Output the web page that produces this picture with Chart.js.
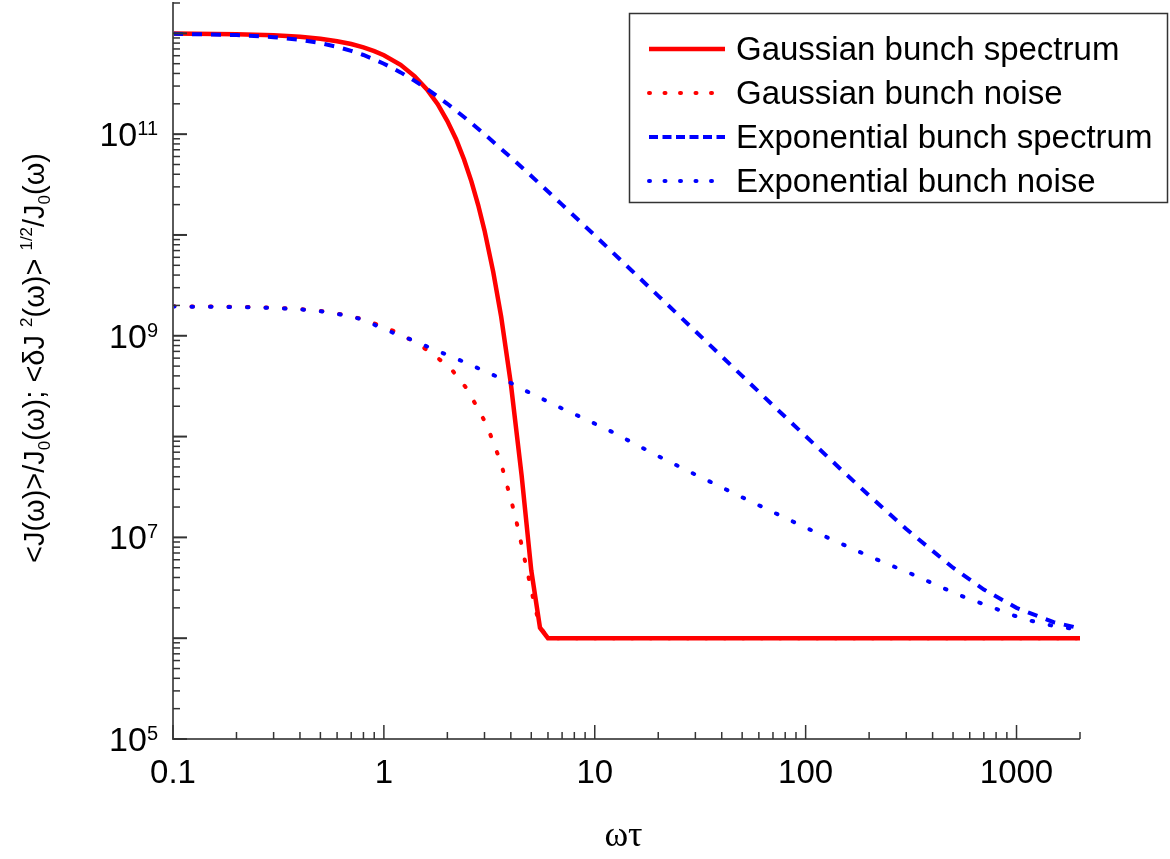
<!DOCTYPE html>
<html>
<head>
<meta charset="utf-8">
<title>Bunch spectrum and noise</title>
<script src="https://cdn.jsdelivr.net/npm/chart.js@4.4.1/dist/chart.umd.min.js"></script>
<style>
  html, body { margin: 0; padding: 0; background: #fff; }
  #wrap { width: 1170px; height: 859px; }
</style>
</head>
<body>
<div id="wrap"><canvas id="chart" width="1170" height="859"></canvas></div>
<script>
// axis ranges and labels
const X_MIN = 0.1, X_MAX = 2000;
const Y_MIN = 1e5, Y_MAX = 2e12;
const xTickValues = [0.1, 1, 10, 100, 1000];
const xTickLabels = ["0.1", "1", "10", "100", "1000"];
const yLabelExponents = [5, 7, 9, 11];
const seriesNames = ["Gaussian bunch spectrum", "Gaussian bunch noise", "Exponential bunch spectrum", "Exponential bunch noise"];

// values
const gaussSpecX = [0.1, 0.2, 0.3, 0.4, 0.5, 0.6, 0.7, 0.8, 0.9, 1.0, 1.2, 1.4, 1.6, 1.8, 2.0, 2.2, 2.4, 2.6, 2.8, 3.0, 3.3, 3.6, 4.0, 4.5, 5.0, 5.5, 6.0, 2000];
const gaussSpecY = [9.95e11, 9.8e11, 9.56e11, 9.23e11, 8.82e11, 8.35e11, 7.83e11, 7.26e11, 6.67e11, 6.07e11, 4.87e11, 3.75e11, 2.78e11, 1.98e11, 1.35e11, 8.9e10, 5.6e10, 3.4e10, 1.98e10, 1.11e10, 4.3e9, 1.54e9, 3.35e8, 4.1e7, 4.7e6, 1.27e6, 1.0e6, 1.0e6];

const gaussNoiseX = [0.1, 0.2, 0.3, 0.4, 0.5, 0.6, 0.7, 0.8, 1.0, 1.13, 1.4, 1.71, 2.1, 2.47, 2.76, 3.08, 3.32, 3.59, 3.79, 4.0, 4.22, 4.41, 4.61, 4.81, 5.03, 5.25, 5.5, 6.0, 2000];
const gaussNoiseY = [1.96e9, 1.94e9, 1.9e9, 1.84e9, 1.76e9, 1.66e9, 1.56e9, 1.45e9, 1.22e9, 1.1e9, 8.7e8, 6.6e8, 4.6e8, 3.0e8, 1.98e8, 1.29e8, 8.5e7, 5.5e7, 3.6e7, 2.4e7, 1.54e7, 1.02e7, 6.6e6, 4.4e6, 2.85e6, 1.9e6, 1.3e6, 1.0e6, 1.0e6];

const expSpecX = [0.1, 0.2, 0.3, 0.4, 0.5, 0.6, 0.7, 0.8, 1.0, 1.2, 1.4, 1.6, 1.8, 2.0, 2.5, 3.0, 4.0, 5.0, 7.0, 10, 15, 20, 30, 50, 70, 100, 150, 200, 300, 500, 700, 1000, 1500, 2000];
const expSpecY = [9.9e11, 9.62e11, 9.17e11, 8.62e11, 8.0e11, 7.35e11, 6.71e11, 6.1e11, 5.0e11, 4.1e11, 3.38e11, 2.81e11, 2.36e11, 2.0e11, 1.38e11, 1.0e11, 5.88e10, 3.85e10, 2.0e10, 9.9e9, 4.42e9, 2.49e9, 1.11e9, 4.0e8, 2.04e8, 1.01e8, 4.54e7, 2.6e7, 1.21e7, 5.0e6, 3.04e6, 2.0e6, 1.44e6, 1.25e6];

const expNoiseX = [0.1, 0.2, 0.3, 0.4, 0.5, 0.6, 0.7, 0.8, 1.0, 1.2, 1.4, 1.7, 2.1, 2.6, 3.2, 3.9, 4.7, 5.8, 7, 8.5, 12, 20, 30, 50, 100, 200, 330, 400, 500, 600, 750, 900, 1100, 1350, 1650, 2000];
const expNoiseY = [1.95e9, 1.93e9, 1.89e9, 1.83e9, 1.75e9, 1.65e9, 1.55e9, 1.44e9, 1.17e9, 1.0e9, 8.9e8, 7.4e8, 6.2e8, 5.1e8, 4.2e8, 3.5e8, 2.85e8, 2.3e8, 1.9e8, 1.58e8, 1.12e8, 6.4e7, 4.2e7, 2.5e7, 1.25e7, 6.5e6, 4.2e6, 3.5e6, 2.85e6, 2.43e6, 2.07e6, 1.77e6, 1.54e6, 1.38e6, 1.28e6, 1.22e6];

const SANS = '"Liberation Sans", Arial, sans-serif';
const SERIF = '"Liberation Serif", "Times New Roman", serif';
const pts = (xs, ys) => xs.map((x, i) => ({ x, y: ys[i] }));

// text with sub/superscript pieces
function richWidth(ctx, parts, size) {
  let w = 0;
  for (const p of parts) {
    ctx.font = `${p.m === "n" ? size : Math.round(size * 0.58)}px ${SANS}`;
    w += ctx.measureText(p.t).width;
  }
  return w;
}
function drawRich(ctx, parts, size, x0, base) {
  let x = x0;
  for (const p of parts) {
    const s = p.m === "n" ? size : Math.round(size * 0.58);
    ctx.font = `${s}px ${SANS}`;
    const dy = p.m === "sub" ? size * 0.22 : p.m === "sup" ? -size * 0.42 : 0;
    ctx.fillText(p.t, x, base + dy);
    x += ctx.measureText(p.t).width;
  }
}

const axesPlugin = {
  id: "axesDecor",
  afterDatasetsDraw(chart) {
    const { ctx, chartArea: a, scales: { x, y } } = chart;
    ctx.save();
    // axis lines (left and bottom only)
    ctx.strokeStyle = "#5a5a5a"; ctx.lineWidth = 2;
    ctx.beginPath();
    ctx.moveTo(a.left, a.top - 1); ctx.lineTo(a.left, a.bottom); ctx.lineTo(a.right, a.bottom);
    ctx.stroke();

    // inward ticks
    ctx.strokeStyle = "#333"; ctx.lineWidth = 1.5;
    const seg = (x1, y1, x2, y2) => { ctx.beginPath(); ctx.moveTo(x1, y1); ctx.lineTo(x2, y2); ctx.stroke(); };
    for (let e = -1; e <= 3; e++) for (let k = 1; k <= 9; k++) {
      const v = k * Math.pow(10, e);
      if (v > X_MAX * 1.0001) continue;
      const px = x.getPixelForValue(v);
      seg(px, a.bottom, px, a.bottom - (k === 1 ? 14 : 7));
    }
    for (let e = 5; e <= 12; e++) for (let k = 1; k <= 9; k++) {
      const v = k * Math.pow(10, e);
      if (v > Y_MAX * 1.0001) continue;
      const py = y.getPixelForValue(v);
      ctx.lineWidth = k === 1 ? 2 : 1.5;
      seg(a.left, py, a.left + (k === 1 ? 14 : 7), py);
    }

    // x tick labels
    ctx.fillStyle = "#000";
    ctx.font = `33px ${SANS}`;
    ctx.textAlign = "center"; ctx.textBaseline = "alphabetic";
    xTickValues.forEach((v, i) => ctx.fillText(xTickLabels[i], x.getPixelForValue(v), a.bottom + 44));

    // y tick labels 10^n
    ctx.textAlign = "left";
    for (const e of yLabelExponents) {
      const py = y.getPixelForValue(Math.pow(10, e));
      ctx.font = `20px ${SANS}`;
      const sw = ctx.measureText(String(e)).width;
      ctx.font = `34px ${SANS}`;
      const mw = ctx.measureText("10").width;
      const right = a.left - 15;
      ctx.fillText("10", right - sw - mw, py + 12);
      ctx.font = `20px ${SANS}`;
      ctx.fillText(String(e), right - sw, py + 1);
    }

    // x title
    ctx.font = `36px ${SERIF}`;
    ctx.textAlign = "center";
    ctx.fillText("ωτ", (a.left + a.right) / 2 - 3, 846);

    // y title, rotated
    const parts = [
      { t: "<J(ω)>/J", m: "n" }, { t: "0", m: "sub" }, { t: "(ω); <δJ ", m: "n" }, { t: "2", m: "sup" },
      { t: "(ω)> ", m: "n" }, { t: "1/2", m: "sup" }, { t: "/J", m: "n" }, { t: "0", m: "sub" }, { t: "(ω)", m: "n" }
    ];
    const size = 29;
    ctx.textAlign = "left";
    const w = richWidth(ctx, parts, size);
    ctx.translate(44, (a.top + a.bottom) / 2 - 13);
    ctx.rotate(-Math.PI / 2);
    drawRich(ctx, parts, size, -w / 2, 0);
    ctx.restore();
  }
};

const boxLegend = {
  id: "boxLegend",
  afterDraw(chart) {
    const { ctx } = chart;
    ctx.save();
    ctx.fillStyle = "#fff";
    ctx.fillRect(629, 13, 539, 189);
    ctx.strokeStyle = "#333"; ctx.lineWidth = 1.5;
    ctx.strokeRect(629.5, 13.5, 538, 189);
    chart.data.datasets.forEach((ds, i) => {
      const yy = 49 + 44 * i;
      ctx.strokeStyle = ds.borderColor;
      ctx.lineWidth = ds.borderWidth;
      ctx.lineCap = ds.borderCapStyle || "butt";
      ctx.setLineDash(ds.legendDash);
      ctx.beginPath(); ctx.moveTo(649, yy); ctx.lineTo(725, yy); ctx.stroke();
      ctx.setLineDash([]);
      ctx.fillStyle = "#000";
      ctx.font = `33px ${SANS}`;
      ctx.textAlign = "left"; ctx.textBaseline = "middle";
      ctx.fillText(ds.label, 736, yy + 2);
    });
    ctx.restore();
  }
};

new Chart(document.getElementById("chart"), {
  type: "line",
  data: {
    datasets: [
      { label: seriesNames[0], data: pts(gaussSpecX, gaussSpecY), borderColor: "#ff0000", borderWidth: 4.5, borderDash: [], legendDash: [], order: 4 },
      { label: seriesNames[1], data: pts(gaussNoiseX, gaussNoiseY), borderColor: "#ff0000", borderWidth: 4, borderDash: [1.5, 17], borderCapStyle: "round", legendDash: [1, 14.5], order: 3 },
      { label: seriesNames[2], data: pts(expSpecX, expSpecY), borderColor: "#0000ff", borderWidth: 4, borderDash: [10, 9], legendDash: [9, 4.5], order: 2 },
      { label: seriesNames[3], data: pts(expNoiseX, expNoiseY), borderColor: "#0000ff", borderWidth: 4, borderDash: [1.5, 17], borderCapStyle: "round", legendDash: [1, 14.5], order: 1 }
    ]
  },
  options: {
    responsive: false,
    animation: false,
    devicePixelRatio: 1,
    layout: { padding: { left: 173, right: 90, top: 3, bottom: 120 } },
    elements: { point: { radius: 0 }, line: { tension: 0, fill: false } },
    plugins: { legend: { display: false }, tooltip: { enabled: false } },
    scales: {
      x: { type: "logarithmic", min: X_MIN, max: X_MAX, display: false },
      y: { type: "logarithmic", min: Y_MIN, max: Y_MAX, display: false }
    }
  },
  plugins: [axesPlugin, boxLegend]
});
</script>
</body>
</html>
